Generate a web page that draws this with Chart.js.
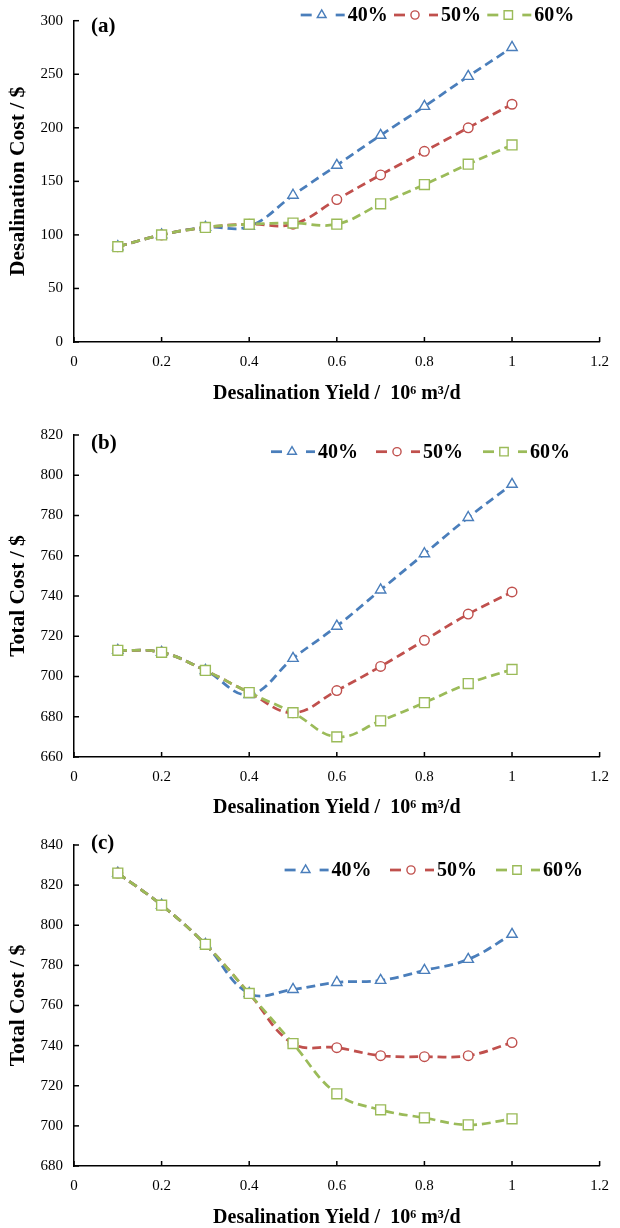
<!DOCTYPE html>
<html><head><meta charset="utf-8">
<script src="https://cdn.jsdelivr.net/npm/chart.js@4.4.1/dist/chart.umd.min.js"></script>
<style>
html,body{margin:0;padding:0;background:#fff;width:620px;height:1228px;overflow:hidden;}
#wrap{position:relative;width:620px;height:1228px;background:#fff;}
canvas{position:absolute;left:0;}
</style></head><body>
<div id="wrap">
<canvas id="ca" width="620" height="410" style="top:0px"></canvas>
<canvas id="cb" width="620" height="410" style="top:410px"></canvas>
<canvas id="cc" width="620" height="410" style="top:820px"></canvas>
</div>
<script>
// ---- data ----
const xValues = [0.1, 0.2, 0.3, 0.4, 0.5, 0.6, 0.7, 0.8, 0.9, 1.0];
const seriesNames = ['40%', '50%', '60%'];

// (a) Desalination cost
const a40 = [89, 100, 107, 108, 137, 165, 193, 220, 248, 275];
const a50 = [89, 100, 107, 110, 110, 133, 156, 178, 200, 222];
const a60 = [89, 100, 107, 110, 111, 110, 129, 147, 166, 184];
// (b) Total cost
const b40 = [713, 712, 703, 691, 709, 725, 743, 761, 779, 795.5];
const b50 = [713, 712, 703, 692, 682, 693, 705, 718, 731, 742];
const b60 = [713, 712, 703, 692, 682, 670, 678, 687, 696.5, 703.5];
// (c) Total cost
const c40 = [826, 810, 790.5, 766, 768, 771.5, 772.5, 777.5, 783, 795.5];
const c50 = [826, 810, 790.5, 766, 741, 739, 735, 734.5, 735, 741.5];
const c60 = [826, 810, 790.5, 766, 741, 716, 708, 704, 700.5, 703.5];

const xTicks = [0, 0.2, 0.4, 0.6, 0.8, 1, 1.2];
const xTickLabels = ['0', '0.2', '0.4', '0.6', '0.8', '1', '1.2'];
const aYTicks = [0, 50, 100, 150, 200, 250, 300];
const bYTicks = [660, 680, 700, 720, 740, 760, 780, 800, 820];
const cYTicks = [680, 700, 720, 740, 760, 780, 800, 820, 840];

const xTitle = 'Desalination Yield /  10\u2076 m\u00B3/d';
const aYTitle = 'Desalination Cost / $';
const bYTitle = 'Total Cost / $';
const cYTitle = 'Total Cost / $';

// ---- styles ----
const FONT = '"Liberation Serif", "Times New Roman", serif';
const colors = ['#4A7EBB', '#C0504D', '#9BBB59'];
const pointStyles = ['triangle', 'circle', 'rect'];
const pointRadii = [6, 4.8, 7];

const decorPlugin = {
  id: 'decor',
  afterDraw(chart, args, o) {
    const ctx = chart.ctx;
    const {left, bottom} = chart.chartArea;
    const xs = chart.scales.x, ys = chart.scales.y;
    ctx.save();
    ctx.strokeStyle = '#000';
    ctx.lineWidth = 1.5;
    ctx.setLineDash([]);
    xs.ticks.forEach(t => {
      const px = xs.getPixelForValue(t.value);
      ctx.beginPath(); ctx.moveTo(px, bottom); ctx.lineTo(px, bottom - 5); ctx.stroke();
    });
    ys.ticks.forEach(t => {
      const py = ys.getPixelForValue(t.value);
      ctx.beginPath(); ctx.moveTo(left, py); ctx.lineTo(left + 5, py); ctx.stroke();
    });
    // panel label
    ctx.fillStyle = '#000';
    ctx.font = 'bold 21px ' + FONT;
    ctx.textBaseline = 'middle';
    ctx.textAlign = 'left';
    ctx.fillText(o.label, o.labelX, o.labelY);
    // legend
    chart.data.datasets.forEach((ds, i) => {
      const x0 = o.legendX[i], y = o.legendY;
      ctx.strokeStyle = ds.borderColor;
      ctx.lineWidth = 2.75;
      ctx.beginPath(); ctx.moveTo(x0, y); ctx.lineTo(x0 + 11, y); ctx.stroke();
      ctx.beginPath(); ctx.moveTo(x0 + 35, y); ctx.lineTo(x0 + 44, y); ctx.stroke();
      ctx.fillStyle = '#fff';
      ctx.strokeStyle = ds.borderColor;
      ctx.lineWidth = ds.pointBorderWidth;
      Chart.helpers.drawPoint(ctx, {pointStyle: ds.pointStyle, radius: ds.pointRadius * 0.85, rotation: 0, borderWidth: ds.pointBorderWidth}, x0 + 21, y);
      ctx.fillStyle = '#000';
      ctx.font = 'bold 20px ' + FONT;
      ctx.textBaseline = 'middle';
      ctx.fillText(ds.label, x0 + 47, y + 1);
    });
    ctx.restore();
  }
};

function makeChart(id, p) {
  const H = 410;
  return new Chart(document.getElementById(id), {
    type: 'line',
    data: {
      datasets: p.series.map((vals, i) => ({
        label: seriesNames[i],
        data: xValues.map((x, j) => ({x: x, y: vals[j]})),
        borderColor: colors[i],
        backgroundColor: '#fff',
        borderWidth: 2.75,
        borderDash: [9, 5],
        tension: 0.4,
        fill: false,
        pointStyle: pointStyles[i],
        pointRadius: pointRadii[i],
        pointBorderWidth: 1.4,
        pointBackgroundColor: '#fff',
        pointBorderColor: colors[i],
        order: 3 - i
      }))
    },
    options: {
      responsive: false,
      animation: false,
      events: [],
      layout: {padding: {top: p.plotTop, right: 16, bottom: 0, left: 0}},
      plugins: {
        legend: {display: false},
        tooltip: {enabled: false},
        decor: {label: p.label, labelX: 91, labelY: p.labelY, legendX: p.legendX, legendY: p.legendY}
      },
      scales: {
        x: {
          type: 'linear', min: 0, max: 1.2,
          afterBuildTicks: s => { s.ticks = xTicks.map(v => ({value: v})); },
          afterFit: s => { s.height = H - p.plotBottom; },
          grid: {display: false, drawTicks: false},
          border: {display: true, color: '#000', width: 1.5},
          ticks: {
            color: '#000', padding: 11, maxRotation: 0, autoSkip: false,
            font: {family: FONT, size: 15, lineHeight: 1.2},
            callback: (v, i) => xTickLabels[i]
          },
          title: {display: true, text: xTitle, color: '#000',
            font: {family: FONT, size: 20, weight: 'bold', lineHeight: 1.2},
            padding: {top: 0, bottom: p.xTitlePad}}
        },
        y: {
          type: 'linear', min: p.yTicks[0], max: p.yTicks[p.yTicks.length - 1],
          afterBuildTicks: s => { s.ticks = p.yTicks.map(v => ({value: v})); },
          afterFit: s => { s.width = 74; },
          grid: {display: false, drawTicks: false},
          border: {display: true, color: '#000', width: 1.5},
          ticks: {
            color: '#000', padding: 11,
            font: {family: FONT, size: 15, lineHeight: 1.2},
            callback: (v, i) => String(p.yTicks[i])
          },
          title: {display: true, text: p.yTitle, color: '#000',
            font: {family: FONT, size: 21.5, weight: 'bold', lineHeight: 1.2},
            padding: {top: 5.5, bottom: 0}}
        }
      }
    },
    plugins: [decorPlugin]
  });
}

makeChart('ca', {series: [a40, a50, a60], yTicks: aYTicks, yTitle: aYTitle, label: '(a)',
  plotTop: 20.7, plotBottom: 342, xTitlePad: 4, labelY: 27,
  legendX: [300.7, 394, 487.3], legendY: 15});
makeChart('cb', {series: [b40, b50, b60], yTicks: bYTicks, yTitle: bYTitle, label: '(b)',
  plotTop: 25, plotBottom: 347, xTitlePad: 0, labelY: 33.3,
  legendX: [271, 376, 483], legendY: 41.7});
makeChart('cc', {series: [c40, c50, c60], yTicks: cYTicks, yTitle: cYTitle, label: '(c)',
  plotTop: 25, plotBottom: 346, xTitlePad: 0, labelY: 23.3,
  legendX: [284.6, 390, 496], legendY: 50});
</script>
</body></html>
